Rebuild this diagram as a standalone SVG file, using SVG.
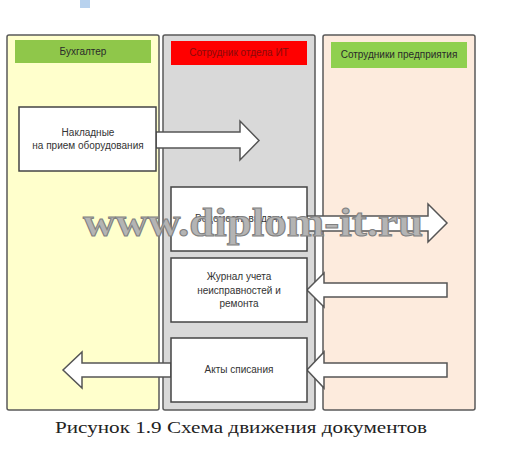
<svg xmlns="http://www.w3.org/2000/svg" width="506" height="460" viewBox="0 0 506 460">
<style>
.lane{stroke:#5a5a5a;stroke-width:1.5}
.hdr{font-family:"Liberation Sans",Arial,sans-serif;font-size:10px;text-anchor:middle}
.box{fill:#fff;stroke:#444;stroke-width:1.5}
.t{font-family:"Liberation Sans",Arial,sans-serif;font-size:10px;fill:#333;text-anchor:middle}
.arr{fill:#fff;stroke:#555;stroke-width:1.5;stroke-linejoin:miter}
.wm{font-family:"Liberation Serif","Times New Roman",serif;font-weight:bold;font-size:40px;fill:#b4b4b4;stroke:#808080;stroke-width:1}
.cap{font-family:"Liberation Serif","Times New Roman",serif;font-size:17px;fill:#222}
</style>
<rect width="506" height="460" fill="#fff"/>
<rect x="80" y="0" width="10" height="8" fill="#b8d2ee"/>
<g id="lane-buh">
<rect class="lane" x="7" y="35" width="152" height="375" rx="2" fill="#ffffcc"/>
<rect x="15" y="40" width="136" height="23" fill="#8fc74a"/>
<text class="hdr" x="83" y="55" fill="#2a2a2a">Бухгалтер</text>
</g>
<g id="lane-it">
<rect class="lane" x="163" y="35" width="152" height="375" rx="2" fill="#d9d9d9"/>
<rect x="171" y="41" width="136" height="24" fill="#ff0000"/>
<text class="hdr" x="239" y="56" fill="#8a0a0a">Сотрудник отдела ИТ</text>
</g>
<g id="lane-emp">
<rect class="lane" x="323" y="35" width="152" height="375" rx="2" fill="#fdebdd"/>
<rect x="331" y="42" width="136" height="26" fill="#8fd04f"/>
<text class="hdr" x="399" y="58" fill="#2a2a2a">Сотрудники предприятия</text>
</g>
<g id="connectors">
<polygon class="arr" points="156,132 240,132 240,121 259,140.5 240,160 240,148 156,148"/>
<polygon class="arr" points="307,216 428,216 428,204 447,223 428,242 428,231 307,231"/>
<polygon class="arr" points="447,283 324,283 324,273 307,290 324,307 324,297 447,297"/>
<polygon class="arr" points="447,363 324,363 324,352 307,370 324,388 324,377 447,377"/>
<polygon class="arr" points="171,363 82,363 82,352 63,370 82,388 82,377 171,377"/>
</g>
<g id="node-nakl">
<rect class="box" x="19" y="107" width="137" height="64"/>
<text class="t" x="88" y="136">Накладные</text>
<text class="t" x="88" y="149">на прием оборудования</text>
</g>
<g id="node-ved">
<rect class="box" x="171" y="187" width="136" height="64"/>
<text class="t" x="239" y="222">Ведомость выдачи</text>
</g>
<g id="node-jur">
<rect class="box" x="171" y="258" width="136" height="64"/>
<text class="t" x="239" y="280">Журнал учета</text>
<text class="t" x="239" y="294">неисправностей и</text>
<text class="t" x="239" y="307">ремонта</text>
</g>
<g id="node-akt">
<rect class="box" x="171" y="338" width="136" height="64"/>
<text class="t" x="239" y="373">Акты списания</text>
</g>
<text class="wm" x="83" y="236" textLength="340" lengthAdjust="spacingAndGlyphs">www.diplom-it.ru</text>
<text class="cap" x="55" y="433" textLength="372" lengthAdjust="spacingAndGlyphs">Рисунок 1.9 Схема движения документов</text>
</svg>
